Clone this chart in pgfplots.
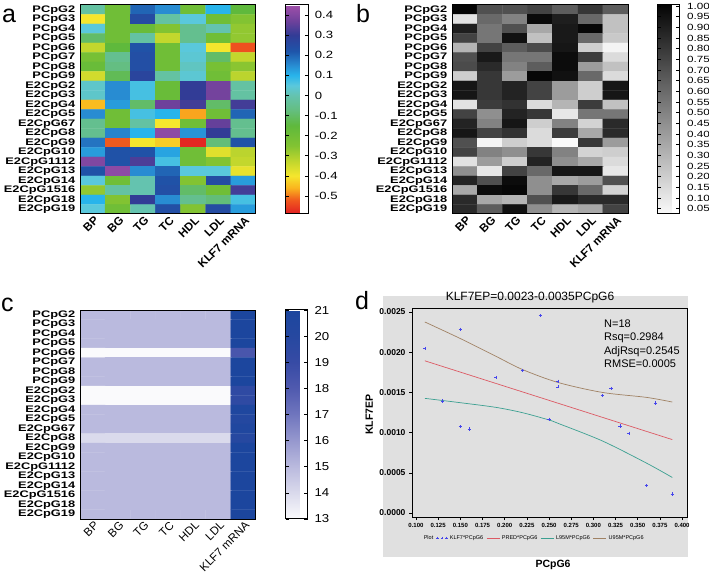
\documentclass[border=0pt]{standalone}
\usepackage{fontspec}
\setmainfont{Liberation Sans}
\usepackage{pgfplots}
\pgfplotsset{compat=1.18}
\definecolor{dbg}{RGB}{224,224,224}
\definecolor{ptblue}{RGB}{70,70,235}
\definecolor{predred}{RGB}{220,90,100}
\definecolor{lteal}{RGB}{60,160,145}
\definecolor{ubrown}{RGB}{160,130,100}
\pgfplotsset{
 hm/.style={scale only axis, width=176pt, height=209pt,
  xmin=-0.5, xmax=6.5, ymin=-0.5, ymax=21.5, y dir=reverse,
  xtick={0,1,2,3,4,5,6}, xticklabels={BP,BG,TG,TC,HDL,LDL,KLF7 mRNA},
  ytick={0,...,21},
  yticklabels={PCpG2,PCpG3,PCpG4,PCpG5,PCpG6,PCpG7,PCpG8,PCpG9,E2CpG2,E2CpG3,E2CpG4,E2CpG5,E2CpG67,E2CpG8,E2CpG9,E2CpG10,E2CpG1112,E2CpG13,E2CpG14,E2CpG1516,E2CpG18,E2CpG19},
  major tick length=0pt, axis line style={line width=1pt}, axis on top,
  xticklabel style={rotate=45, anchor=east, xshift=3pt, yshift=-6pt, font=\bfseries\fontsize{11.5}{12}\selectfont},
  yticklabel style={anchor=east, xscale=1.35, font=\bfseries\fontsize{9.5}{9.5}\selectfont},
  colorbar},
 cb/.style={at={(parent axis.north east)}, anchor=north west, xshift=21pt,
  width=23pt, height=209pt, scale only axis, axis line style={line width=1pt},
  tick align=inside, major tick length=3.5pt, ytick pos=both, yticklabel pos=right,
  tick style={black, line width=0.6pt}},
}
\begin{document}
\begin{tikzpicture}
\path[use as bounding box] (0,0) rectangle (709pt,578pt);
\fill[dbg] (383pt,21pt) rectangle (688pt,282pt);
\node[anchor=base west, font=\fontsize{25}{25}\selectfont, inner sep=0pt] at (2pt,555pt) {a};
\node[anchor=base west, font=\fontsize{25}{25}\selectfont, inner sep=0pt] at (356pt,555pt) {b};
\node[anchor=base west, font=\fontsize{25}{25}\selectfont, inner sep=0pt] at (1pt,266pt) {c};
\node[anchor=base west, font=\fontsize{25}{25}\selectfont, inner sep=0pt] at (355pt,268pt) {d};

% ---------------- panel a ----------------
\begin{axis}[hm, at={(80pt,364pt)}, anchor=south west,
  colormap={rainb}{rgb255(0pt)=(225,30,35); rgb255(7pt)=(240,90,30); rgb255(13pt)=(250,180,30); rgb255(19pt)=(245,230,45); rgb255(26pt)=(195,215,45); rgb255(34pt)=(130,195,50); rgb255(44pt)=(95,185,60); rgb255(52pt)=(100,190,130); rgb255(59pt)=(100,195,175); rgb255(64pt)=(90,200,220); rgb255(69pt)=(40,180,235); rgb255(74pt)=(40,140,210); rgb255(81pt)=(30,85,170); rgb255(89pt)=(50,60,150); rgb255(96pt)=(110,65,155); rgb255(104pt)=(160,80,170)},
  point meta min=-0.59, point meta max=0.45,
  colorbar style={cb,
   ytick={-0.5,-0.4,-0.3,-0.2,-0.1,0,0.1,0.2,0.3,0.4},
   yticklabels={-0.5,-0.4,-0.3,-0.2,-0.1,0,0.1,0.2,0.3,0.4},
   yticklabel style={anchor=west, xshift=2pt, xscale=1.25, font=\fontsize{10.5}{11}\selectfont}}]
\addplot[matrix plot*, mesh/cols=7, point meta=explicit] table[meta=v, row sep=\\]{
x y v\\
0 0 -0.02\\ 1 0 -0.20\\ 2 0 0.20\\ 3 0 0.15\\ 4 0 -0.20\\ 5 0 0.10\\ 6 0 -0.15\\
0 1 -0.40\\ 1 1 -0.20\\ 2 1 0.25\\ 3 1 -0.02\\ 4 1 0.05\\ 5 1 -0.20\\ 6 1 -0.25\\
0 2 0.05\\ 1 2 -0.20\\ 2 2 -0.18\\ 3 2 -0.25\\ 4 2 -0.05\\ 5 2 0.00\\ 6 2 -0.27\\
0 3 -0.10\\ 1 3 -0.20\\ 2 3 -0.02\\ 3 3 -0.33\\ 4 3 -0.05\\ 5 3 -0.20\\ 6 3 -0.27\\
0 4 -0.33\\ 1 4 -0.15\\ 2 4 0.23\\ 3 4 -0.20\\ 4 4 0.05\\ 5 4 -0.40\\ 6 4 -0.53\\
0 5 -0.22\\ 1 5 -0.05\\ 2 5 0.24\\ 3 5 -0.20\\ 4 5 0.04\\ 5 5 -0.10\\ 6 5 -0.33\\
0 6 -0.18\\ 1 6 -0.07\\ 2 6 0.24\\ 3 6 -0.20\\ 4 6 0.02\\ 5 6 -0.22\\ 6 6 -0.26\\
0 7 -0.35\\ 1 7 -0.12\\ 2 7 0.27\\ 3 7 -0.02\\ 4 7 0.04\\ 5 7 -0.20\\ 6 7 -0.32\\
0 8 0.03\\ 1 8 0.15\\ 2 8 0.07\\ 3 8 -0.18\\ 4 8 0.30\\ 5 8 0.38\\ 6 8 -0.02\\
0 9 0.03\\ 1 9 0.15\\ 2 9 0.07\\ 3 9 -0.18\\ 4 9 0.30\\ 5 9 0.38\\ 6 9 -0.02\\
0 10 -0.45\\ 1 10 0.13\\ 2 10 -0.10\\ 3 10 0.37\\ 4 10 0.32\\ 5 10 -0.10\\ 6 10 0.32\\
0 11 0.15\\ 1 11 -0.20\\ 2 11 0.07\\ 3 11 0.10\\ 4 11 -0.47\\ 5 11 -0.20\\ 6 11 0.20\\
0 12 -0.05\\ 1 12 -0.20\\ 2 12 -0.02\\ 3 12 -0.40\\ 4 12 -0.20\\ 5 12 0.36\\ 6 12 -0.05\\
0 13 -0.05\\ 1 13 0.16\\ 2 13 0.10\\ 3 13 0.42\\ 4 13 0.14\\ 5 13 0.30\\ 6 13 -0.05\\
0 14 0.18\\ 1 14 -0.52\\ 2 14 -0.40\\ 3 14 -0.43\\ 4 14 -0.58\\ 5 14 -0.08\\ 6 14 0.23\\
0 15 0.13\\ 1 15 0.23\\ 2 15 0.23\\ 3 15 0.12\\ 4 15 -0.20\\ 5 15 -0.37\\ 6 15 -0.32\\
0 16 0.40\\ 1 16 0.23\\ 2 16 0.33\\ 3 16 0.07\\ 4 16 -0.20\\ 5 16 -0.25\\ 6 16 -0.33\\
0 17 0.23\\ 1 17 0.42\\ 2 17 0.15\\ 3 17 0.20\\ 4 17 0.05\\ 5 17 0.05\\ 6 17 -0.38\\
0 18 0.05\\ 1 18 -0.20\\ 2 18 0.00\\ 3 18 0.23\\ 4 18 -0.25\\ 5 18 0.25\\ 6 18 0.13\\
0 19 -0.27\\ 1 19 -0.02\\ 2 19 0.00\\ 3 19 0.24\\ 4 19 -0.10\\ 5 19 -0.20\\ 6 19 0.32\\
0 20 0.10\\ 1 20 -0.25\\ 2 20 0.30\\ 3 20 0.15\\ 4 20 -0.05\\ 5 20 -0.08\\ 6 20 0.07\\
0 21 0.05\\ 1 21 -0.20\\ 2 21 0.00\\ 3 21 0.24\\ 4 21 -0.25\\ 5 21 0.25\\ 6 21 0.13\\
};
\end{axis}

% ---------------- panel b ----------------
\begin{axis}[hm, at={(452pt,364pt)}, anchor=south west,
  colormap={grays}{rgb255(0pt)=(250,250,250); rgb255(1pt)=(5,5,5)},
  point meta min=0.025, point meta max=1.005,
  colorbar style={cb, width=22pt,
   ytick={0.05,0.1,0.15,0.2,0.25,0.3,0.35,0.4,0.45,0.5,0.55,0.6,0.65,0.7,0.75,0.8,0.85,0.9,0.95,1.0},
   yticklabels={0.05,0.10,0.15,0.20,0.25,0.30,0.35,0.40,0.45,0.50,0.55,0.60,0.65,0.70,0.75,0.80,0.85,0.90,0.95,1.00},
   yticklabel style={anchor=west, xshift=3pt, xscale=1.3, font=\fontsize{9}{9}\selectfont}}]
\addplot[matrix plot*, mesh/cols=7, point meta=explicit] table[meta=v, row sep=\\]{
x y v\\
0 0 1.00\\ 1 0 0.70\\ 2 0 0.70\\ 3 0 0.75\\ 4 0 0.65\\ 5 0 0.80\\ 6 0 0.65\\
0 1 0.12\\ 1 1 0.60\\ 2 1 0.50\\ 3 1 0.98\\ 4 1 0.90\\ 5 1 0.60\\ 6 1 0.25\\
0 2 0.90\\ 1 2 0.55\\ 2 2 0.70\\ 3 2 0.35\\ 4 2 0.92\\ 5 2 0.99\\ 6 2 0.25\\
0 3 0.75\\ 1 3 0.55\\ 2 3 0.95\\ 3 3 0.25\\ 4 3 0.92\\ 5 3 0.60\\ 6 3 0.22\\
0 4 0.30\\ 1 4 0.75\\ 2 4 0.65\\ 3 4 0.72\\ 4 4 0.93\\ 5 4 0.20\\ 6 4 0.05\\
0 5 0.70\\ 1 5 0.92\\ 2 5 0.55\\ 3 5 0.55\\ 4 5 0.97\\ 5 5 0.78\\ 6 5 0.15\\
0 6 0.72\\ 1 6 0.85\\ 2 6 0.50\\ 3 6 0.65\\ 4 6 0.97\\ 5 6 0.40\\ 6 6 0.25\\
0 7 0.20\\ 1 7 0.80\\ 2 7 0.40\\ 3 7 0.99\\ 4 7 0.95\\ 5 7 0.60\\ 6 7 0.15\\
0 8 0.93\\ 1 8 0.80\\ 2 8 0.88\\ 3 8 0.75\\ 4 8 0.40\\ 5 8 0.20\\ 6 8 0.93\\
0 9 0.93\\ 1 9 0.80\\ 2 9 0.88\\ 3 9 0.75\\ 4 9 0.40\\ 5 9 0.20\\ 6 9 0.93\\
0 10 0.12\\ 1 10 0.78\\ 2 10 0.82\\ 3 10 0.15\\ 4 10 0.30\\ 5 10 0.78\\ 6 10 0.25\\
0 11 0.75\\ 1 11 0.45\\ 2 11 0.88\\ 3 11 0.80\\ 4 11 0.10\\ 5 11 0.55\\ 6 11 0.55\\
0 12 0.88\\ 1 12 0.50\\ 2 12 0.93\\ 3 12 0.20\\ 4 12 0.50\\ 5 12 0.18\\ 6 12 0.85\\
0 13 0.93\\ 1 13 0.75\\ 2 13 0.82\\ 3 13 0.15\\ 4 13 0.78\\ 5 13 0.35\\ 6 13 0.85\\
0 14 0.70\\ 1 14 0.05\\ 2 14 0.20\\ 3 14 0.15\\ 4 14 0.02\\ 5 14 0.80\\ 6 14 0.40\\
0 15 0.75\\ 1 15 0.50\\ 2 15 0.45\\ 3 15 0.80\\ 4 15 0.50\\ 5 15 0.18\\ 6 15 0.20\\
0 16 0.12\\ 1 16 0.40\\ 2 16 0.20\\ 3 16 0.88\\ 4 16 0.45\\ 5 16 0.35\\ 6 16 0.15\\
0 17 0.45\\ 1 17 0.10\\ 2 17 0.75\\ 3 17 0.60\\ 4 17 0.93\\ 5 17 0.93\\ 6 17 0.10\\
0 18 0.88\\ 1 18 0.70\\ 2 18 0.97\\ 3 18 0.45\\ 4 18 0.35\\ 5 18 0.40\\ 6 18 0.70\\
0 19 0.35\\ 1 19 0.97\\ 2 19 0.99\\ 3 19 0.45\\ 4 19 0.80\\ 5 19 0.60\\ 6 19 0.18\\
0 20 0.85\\ 1 20 0.35\\ 2 20 0.30\\ 3 20 0.70\\ 4 20 0.92\\ 5 20 0.85\\ 6 20 0.85\\
0 21 0.85\\ 1 21 0.65\\ 2 21 0.95\\ 3 21 0.45\\ 4 21 0.30\\ 5 21 0.35\\ 6 21 0.75\\
};
\end{axis}

% ---------------- panel c ----------------
\begin{axis}[hm, at={(80pt,59pt)}, anchor=south west,
  xticklabel style={font=\fontsize{11.5}{12}\selectfont},
  colormap={blu}{rgb255(0pt)=(250,250,252); rgb255(1pt)=(218,218,236); rgb255(2pt)=(186,186,222); rgb255(3pt)=(150,152,206); rgb255(4pt)=(112,118,190); rgb255(5pt)=(80,90,175); rgb255(6pt)=(55,75,165); rgb255(7pt)=(38,72,160); rgb255(8pt)=(28,70,158)},
  point meta min=13, point meta max=21,
  colorbar style={cb, width=22pt,
   ytick={13,14,15,16,17,18,19,20,21},
   yticklabels={13,14,15,16,17,18,19,20,21},
   yticklabel style={anchor=west, xshift=3pt, xscale=1.15, font=\fontsize{11.5}{12}\selectfont}}]
\addplot[matrix plot*, mesh/cols=7, point meta=explicit] table[meta=v, row sep=\\]{
x y v\\
0 0 15\\ 1 0 15\\ 2 0 15\\ 3 0 15\\ 4 0 15\\ 5 0 15\\ 6 0 21\\
0 1 15\\ 1 1 15\\ 2 1 15\\ 3 1 15\\ 4 1 15\\ 5 1 15\\ 6 1 21\\
0 2 15\\ 1 2 15\\ 2 2 15\\ 3 2 15\\ 4 2 15\\ 5 2 15\\ 6 2 21\\
0 3 15\\ 1 3 15\\ 2 3 15\\ 3 3 15\\ 4 3 15\\ 5 3 15\\ 6 3 21\\
0 4 13\\ 1 4 13\\ 2 4 13\\ 3 4 13\\ 4 4 13\\ 5 4 13\\ 6 4 18.3\\
0 5 15\\ 1 5 15\\ 2 5 15\\ 3 5 15\\ 4 5 15\\ 5 5 15\\ 6 5 21\\
0 6 15\\ 1 6 15\\ 2 6 15\\ 3 6 15\\ 4 6 15\\ 5 6 15\\ 6 6 21\\
0 7 15\\ 1 7 15\\ 2 7 15\\ 3 7 15\\ 4 7 15\\ 5 7 15\\ 6 7 21\\
0 8 13\\ 1 8 13\\ 2 8 13\\ 3 8 13\\ 4 8 13\\ 5 8 13\\ 6 8 19.5\\
0 9 13\\ 1 9 13\\ 2 9 13\\ 3 9 13\\ 4 9 13\\ 5 9 13\\ 6 9 19.5\\
0 10 15\\ 1 10 15\\ 2 10 15\\ 3 10 15\\ 4 10 15\\ 5 10 15\\ 6 10 20.7\\
0 11 15\\ 1 11 15\\ 2 11 15\\ 3 11 15\\ 4 11 15\\ 5 11 15\\ 6 11 20.2\\
0 12 15\\ 1 12 15\\ 2 12 15\\ 3 12 15\\ 4 12 15\\ 5 12 15\\ 6 12 20.6\\
0 13 14\\ 1 13 14\\ 2 13 14\\ 3 13 14\\ 4 13 14\\ 5 13 14\\ 6 13 20\\
0 14 15\\ 1 14 15\\ 2 14 15\\ 3 14 15\\ 4 14 15\\ 5 14 15\\ 6 14 21\\
0 15 15\\ 1 15 15\\ 2 15 15\\ 3 15 15\\ 4 15 15\\ 5 15 15\\ 6 15 21\\
0 16 15\\ 1 16 15\\ 2 16 15\\ 3 16 15\\ 4 16 15\\ 5 16 15\\ 6 16 21\\
0 17 15\\ 1 17 15\\ 2 17 15\\ 3 17 15\\ 4 17 15\\ 5 17 15\\ 6 17 21\\
0 18 15\\ 1 18 15\\ 2 18 15\\ 3 18 15\\ 4 18 15\\ 5 18 15\\ 6 18 21\\
0 19 15\\ 1 19 15\\ 2 19 15\\ 3 19 15\\ 4 19 15\\ 5 19 15\\ 6 19 21\\
0 20 15\\ 1 20 15\\ 2 20 15\\ 3 20 15\\ 4 20 15\\ 5 20 15\\ 6 20 21\\
0 21 15\\ 1 21 15\\ 2 21 15\\ 3 21 15\\ 4 21 15\\ 5 21 15\\ 6 21 21\\
};
\end{axis}

% ---------------- panel d ----------------
\begin{axis}[at={(412pt,61pt)}, anchor=south west, scale only axis, width=275pt, height=209pt,
  xmin=0.0955, xmax=0.4056, ymin=-0.00005, ymax=0.00255,
  xtick={0.1,0.125,0.15,0.175,0.2,0.225,0.25,0.275,0.3,0.325,0.35,0.375,0.4},
  xticklabels={0.100,0.125,0.150,0.175,0.200,0.225,0.250,0.275,0.300,0.325,0.350,0.375,0.400},
  ytick={0,0.0005,0.001,0.0015,0.002,0.0025},
  yticklabels={0.0000,0.0005,0.0010,0.0015,0.0020,0.0025},
  scaled ticks=false, tick align=outside, major tick length=3pt,
  xtick pos=bottom, ytick pos=left,
  axis line style={black, line width=0.5pt}, tick style={black, line width=0.5pt},
  xticklabel style={font=\bfseries\fontsize{6}{6}\selectfont},
  yticklabel style={font=\bfseries\fontsize{8.5}{9}\selectfont},
  xlabel={PCpG6}, ylabel={KLF7EP},
  every axis x label/.style={at={(axis description cs:0.513,-0.23)}, anchor=center, font=\bfseries\fontsize{10.5}{11}\selectfont},
  every axis y label/.style={at={(axis description cs:-0.155,0.49)}, rotate=90, anchor=center, font=\bfseries\fontsize{10.5}{11}\selectfont},
  title={KLF7EP=0.0023-0.0035PCpG6},
  title style={at={(axis description cs:0.429,1)}, anchor=base, yshift=1.5pt, font=\fontsize{12}{12}\selectfont},
  legend columns=-1,
  legend style={at={(axis description cs:0.035,-0.1)}, anchor=west, draw=none, fill=none,
    font=\fontsize{5.5}{6}\selectfont, inner sep=0pt,
    /tikz/every even column/.append style={column sep=1pt}},
  legend cell align=left,
]
\addlegendimage{empty legend}\addlegendentry{Plot}
\addplot[only marks, mark=+, mark size=1.6pt, color=ptblue, mark options={line width=0.5pt},
  legend image code/.code={\draw[ptblue, line width=0.5pt, mark=+, mark size=1.3pt, only marks] plot coordinates {(0pt,0pt) (4.5pt,0pt) (9pt,0pt)};}]
 coordinates {(0.11,0.002045) (0.13,0.001393) (0.15,0.002285) (0.15,0.001074) (0.16,0.001045)
 (0.19,0.001686) (0.22,0.001773) (0.24,0.002455) (0.25,0.001165) (0.26,0.00164) (0.26,0.00157)
 (0.31,0.001459) (0.32,0.00155) (0.33,0.001083) (0.34,0.000992) (0.36,0.000339) (0.37,0.001368)
 (0.389,0.000236)};
\addlegendentry{KLF7*PCpG6}
\addplot[predred, line width=0.7pt, legend image code/.code={\draw[predred, line width=0.7pt] (0pt,0pt)--(13pt,0pt);}]
 coordinates {(0.11,0.001893) (0.389,0.000913)};
\addlegendentry{PRED*PCpG6}
\addplot[lteal, line width=0.7pt, smooth, legend image code/.code={\draw[lteal, line width=0.7pt] (0pt,0pt)--(13pt,0pt);}]
 coordinates {(0.11,0.001426) (0.15,0.001372) (0.19,0.001314) (0.22,0.001248) (0.25,0.001157) (0.26,0.001116) (0.31,0.000897) (0.36,0.00062) (0.389,0.000442)};
\addlegendentry{L95M*PCpG6}
\addplot[ubrown, line width=0.7pt, smooth, legend image code/.code={\draw[ubrown, line width=0.7pt] (0pt,0pt)--(13pt,0pt);}]
 coordinates {(0.11,0.002376) (0.15,0.00217) (0.19,0.00195) (0.22,0.001785) (0.26,0.001624) (0.31,0.0015) (0.36,0.001438) (0.389,0.00138)};
\addlegendentry{U95M*PCpG6}
\node[anchor=north west, align=left, font=\fontsize{11}{13.5}\selectfont, inner sep=0pt] at (axis description cs:0.698,0.945) {N=18\\Rsq=0.2984\\AdjRsq=0.2545\\RMSE=0.0005};
\end{axis}
\end{tikzpicture}
\end{document}
